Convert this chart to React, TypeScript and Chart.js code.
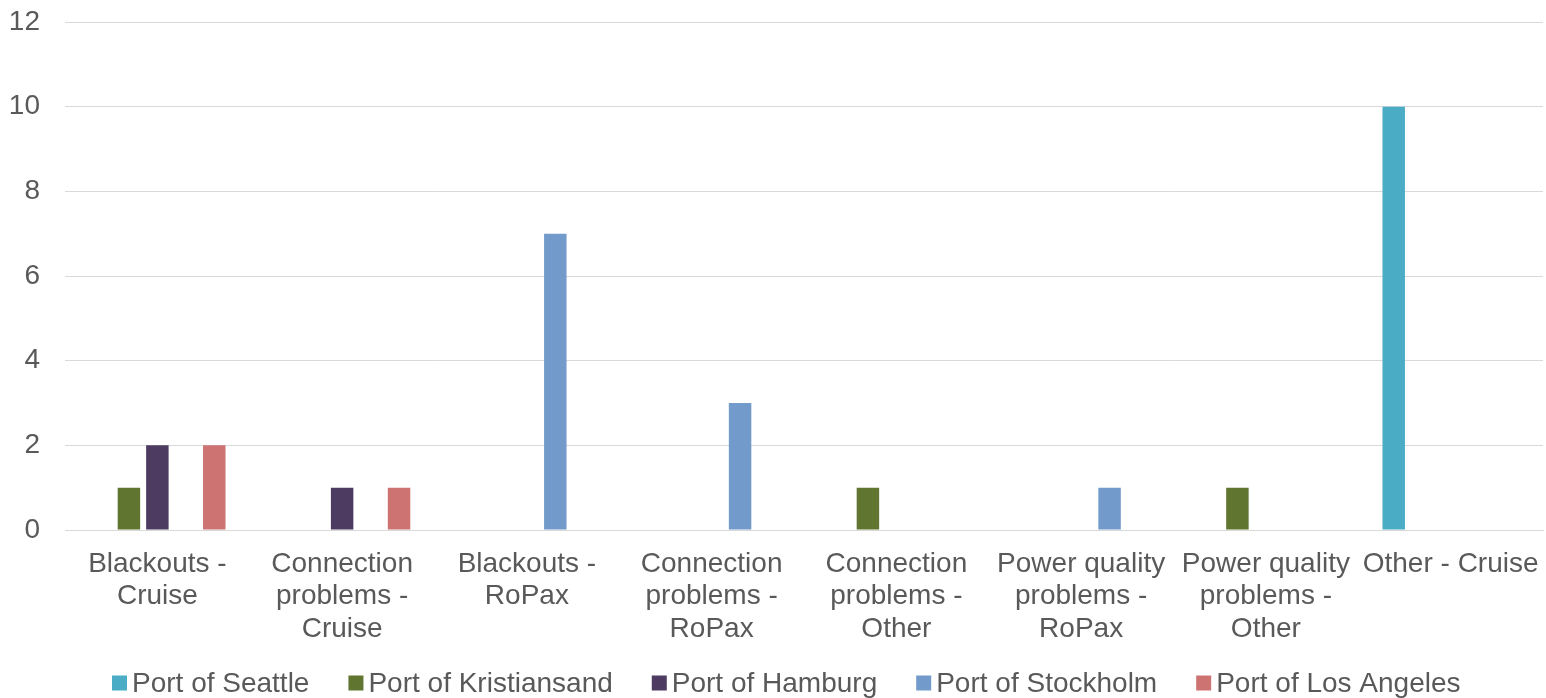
import React, { useEffect, useRef } from "react";
import { Chart, registerables } from "chart.js";

Chart.register(...registerables);

const categories: (string | string[])[] = [
  ["Blackouts -", "Cruise"],
  ["Connection", "problems -", "Cruise"],
  ["Blackouts -", "RoPax"],
  ["Connection", "problems -", "RoPax"],
  ["Connection", "problems -", "Other"],
  ["Power quality", "problems -", "RoPax"],
  ["Power quality", "problems -", "Other"],
  "Other - Cruise",
];

const seriesNames = [
  "Port of Seattle",
  "Port of Kristiansand",
  "Port of Hamburg",
  "Port of Stockholm",
  "Port of Los Angeles",
];

const seattle = [0, 0, 0, 0, 0, 0, 0, 10];
const kristiansand = [1, 0, 0, 0, 1, 0, 1, 0];
const hamburg = [2, 1, 0, 0, 0, 0, 0, 0];
const stockholm = [0, 0, 7, 3, 0, 1, 0, 0];
const losAngeles = [2, 1, 0, 0, 0, 0, 0, 0];

const colors = ["#4BACC6", "#5F7530", "#4D3B62", "#729ACA", "#CD7371"];

const yTicks = [0, 2, 4, 6, 8, 10, 12];

const FONT = "'Liberation Sans', Arial, sans-serif";
const TEXT_COLOR = "#595959";

const bottomLegend = {
  id: "bottomLegend",
  afterDraw(chart: any) {
    const ctx = chart.ctx as CanvasRenderingContext2D;
    const datasets = chart.data.datasets;
    ctx.save();
    ctx.font = `28px ${FONT}`;
    ctx.textBaseline = "middle";
    ctx.textAlign = "left";
    const box = 15;
    const boxGap = 5;
    const itemGap = 39;
    const cy = 683;
    let x = 112;
    datasets.forEach((ds: any) => {
      ctx.fillStyle = ds.backgroundColor;
      ctx.fillRect(x, cy - box / 2, box, box);
      ctx.fillStyle = TEXT_COLOR;
      const tx = x + box + boxGap;
      ctx.fillText(ds.label, tx, cy + 1);
      x = tx + ctx.measureText(ds.label).width + itemGap;
    });
    ctx.restore();
  },
};

export default function App() {
  const ref = useRef<HTMLCanvasElement | null>(null);

  useEffect(() => {
    document.body.style.margin = "0";
    if (!ref.current) return;
    const values = [seattle, kristiansand, hamburg, stockholm, losAngeles];
    const chart = new Chart(ref.current, {
      type: "bar",
      data: {
        labels: categories,
        datasets: seriesNames.map((name, i) => ({
          label: name,
          data: values[i],
          backgroundColor: colors[i],
          borderWidth: 0,
          categoryPercentage: 0.77,
          barPercentage: 0.79,
        })),
      },
      plugins: [bottomLegend],
      options: {
        animation: false,
        responsive: false,
        maintainAspectRatio: false,
        layout: { padding: { top: 22, right: 3, left: 9, bottom: 48 } },
        plugins: {
          tooltip: { enabled: false },
          legend: { display: false },
        },
        scales: {
          x: {
            grid: { display: false, drawTicks: false },
            border: { display: true, color: "#d9d9d9", width: 1 },
            ticks: {
              color: TEXT_COLOR,
              font: { family: FONT, size: 28, lineHeight: 1.16 },
              maxRotation: 0,
              autoSkip: false,
              padding: 18,
            },
            afterFit: (scale: any) => {
              scale.height = 120;
              scale.paddingLeft = 0;
              scale.paddingRight = 0;
            },
          },
          y: {
            min: 0,
            max: 12,
            afterBuildTicks: (axis: any) => {
              axis.ticks = yTicks.map((v) => ({ value: v }));
            },
            grid: { color: "#d9d9d9", lineWidth: 1, drawTicks: false },
            border: { display: false },
            ticks: {
              color: TEXT_COLOR,
              font: { family: FONT, size: 28 },
              padding: 25,
            },
            afterFit: (scale: any) => {
              scale.width = 56;
              scale.paddingTop = 0;
              scale.paddingBottom = 0;
            },
          },
        },
      },
    });
    return () => chart.destroy();
  }, []);

  return (
    <div style={{ width: 1546, height: 698 }}>
      <canvas ref={ref} width={1546} height={698} />
    </div>
  );
}
